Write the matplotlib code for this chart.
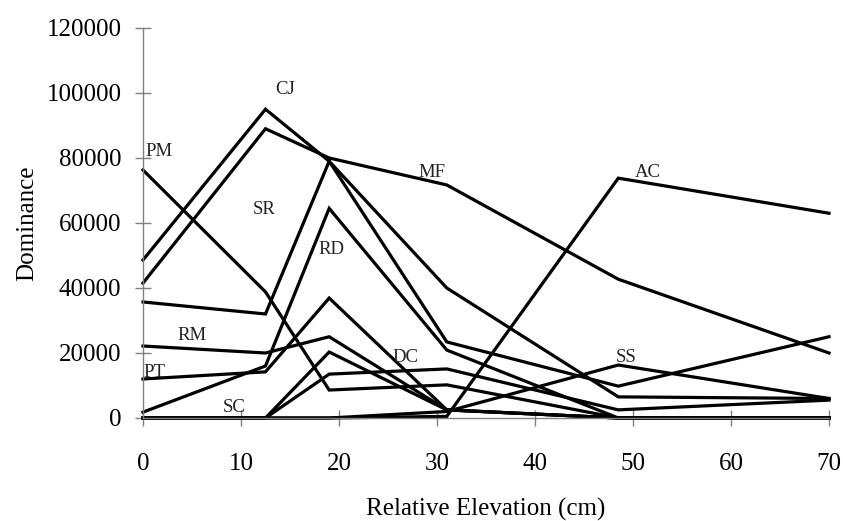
import matplotlib
matplotlib.use("Agg")
import matplotlib.pyplot as plt

# Relative elevation (cm) of the sampling stations
elevation = [0, 12.5, 19, 31, 48.5, 70]

# Dominance of each species at each elevation
pm = [76300, 38800, 8600, 10200, 0, 0]
cj = [48600, 95000, 79000, 40000, 6500, 6000]
mf = [41500, 89000, 80000, 71700, 42700, 20000]
sr = [35700, 32000, 79000, 23400, 9800, 25000]
rd = [1800, 16000, 64500, 20900, 0, 0]
rm = [22150, 20000, 25000, 2500, 0, 0]
pt = [12000, 14200, 36900, 2500, 0, 0]
sc = [0, 0, 20300, 2500, 0, 0]
dc = [0, 0, 13500, 15100, 2500, 5500]
ac = [0, 0, 0, 500, 73800, 63000]
ss = [0, 0, 0, 2000, 16300, 6000]

series = [pm, cj, mf, sr, rd, rm, pt, sc, dc, ac, ss]

# label text and where it sits (data coords)
labels = ["PM", "CJ", "SR", "MF", "RD", "RM", "PT", "SC", "DC", "AC", "SS"]
label_x = [1.6, 14.5, 12.4, 29.5, 19.2, 5.0, 1.2, 9.3, 26.8, 51.5, 49.3]
label_y = [82000, 101000, 64000, 75400, 51700, 25500, 14000, 3200, 18500, 75400, 18500]

plt.rcParams["font.family"] = ["Liberation Serif", "DejaVu Serif"]

fig = plt.figure(figsize=(8.43, 5.21), dpi=100)
ax = fig.add_axes([0.1696, 0.1977, 0.8138, 0.7486])

for s in series:
    ax.plot(elevation, s, color="black", lw=2.3, clip_on=False,
            solid_joinstyle="miter")

for txt, x, y in zip(labels, label_x, label_y):
    ax.text(x, y, txt, fontsize=13.5, ha="center", va="center", color="#222222")

ax.set_xlim(0, 70)
ax.set_ylim(0, 120000)
ax.set_xticks(range(0, 71, 10))
ax.set_yticks(range(0, 120001, 20000))

for side in ["top", "right"]:
    ax.spines[side].set_visible(False)
for side in ["left", "bottom"]:
    ax.spines[side].set_color("#808080")
    ax.spines[side].set_linewidth(1.0)

ax.tick_params(direction="inout", length=11, width=1.0, color="#808080",
               labelsize=18, labelcolor="black")
ax.tick_params(axis="x", pad=20)
ax.tick_params(axis="y", pad=10)

ax.set_xlabel("Relative Elevation (cm)", fontsize=18, labelpad=16)
ax.set_ylabel("Dominance", fontsize=18, labelpad=6)

fig.savefig("out.png", dpi=100)
